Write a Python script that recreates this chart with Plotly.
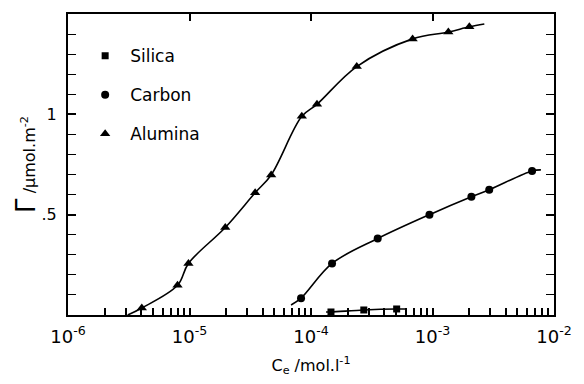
import plotly.graph_objects as go

# Data
alumina_x = [4.05e-6, 7.97e-6, 9.8e-6, 1.97e-5, 3.47e-5, 4.7e-5, 8.4e-5, 1.12e-4, 2.38e-4, 6.86e-4, 1.35e-3, 2.01e-3]
alumina_y = [0.035, 0.148, 0.257, 0.436, 0.609, 0.698, 0.99, 1.05, 1.238, 1.376, 1.41, 1.436]
carbon_x = [8.28e-5, 1.49e-4, 3.54e-4, 9.44e-4, 2.09e-3, 2.93e-3, 6.6e-3]
carbon_y = [0.084, 0.257, 0.381, 0.5, 0.589, 0.624, 0.718]
silica_x = [1.46e-4, 2.72e-4, 5.07e-4]
silica_y = [0.015, 0.025, 0.03]

# Fitted-curve end points
alumina_curve_ends_x = [3.1e-6, 2.67e-3]
alumina_curve_ends_y = [0.0, 1.45]
carbon_curve_ends_x = [6.85e-5, 7.8e-3]
carbon_curve_ends_y = [0.05, 0.723]
silica_curve_ends_x = [1.33e-4, 6.0e-4]
silica_curve_ends_y = [0.015, 0.03]

decades = [1e-6, 1e-5, 1e-4, 1e-3, 1e-2]
decade_labels = ["10<sup>-6</sup>", "10<sup>-5</sup>", "10<sup>-4</sup>", "10<sup>-3</sup>", "10<sup>-2</sup>"]
x_minor = [m * d for d in decades[:-1] for m in range(2, 10)]
x_tickvals = decades + x_minor
x_ticktext = decade_labels + [""] * len(x_minor)
y_tickvals = [0.5, 1.0]
y_ticktext = [".5", "1"]

FONT = "DejaVu Sans"

fig = go.Figure()

series = [
    ("Silica", silica_x, silica_y, silica_curve_ends_x, silica_curve_ends_y, "square", 7),
    ("Carbon", carbon_x, carbon_y, carbon_curve_ends_x, carbon_curve_ends_y, "circle", 8),
    ("Alumina", alumina_x, alumina_y, alumina_curve_ends_x, alumina_curve_ends_y, "triangle-up", 9),
]

for name, xs, ys, ex, ey, sym, sz in series:
    cx = [ex[0]] + xs + [ex[1]]
    cy = [ey[0]] + ys + [ey[1]]
    fig.add_trace(go.Scatter(
        x=cx, y=cy, mode="lines", line=dict(color="black", width=1.6, shape="spline", smoothing=1.0),
        showlegend=False, legendgroup=name, hoverinfo="skip"))
    fig.add_trace(go.Scatter(
        x=xs, y=ys, mode="markers", name=name, legendgroup=name,
        marker=dict(symbol=sym, size=sz, color="black")))

# invisible trace on the top axis so that it is drawn
fig.add_trace(go.Scatter(x=[decades[0], decades[-1]], y=[None, None], xaxis="x2", yaxis="y",
                         mode="markers", showlegend=False, hoverinfo="skip"))

fig.update_layout(
    width=584, height=384,
    margin=dict(l=68, r=28, t=14, b=66),
    paper_bgcolor="white", plot_bgcolor="white",
    font=dict(family=FONT, size=14, color="black"),
    legend=dict(x=0.025, y=0.92, xanchor="left", yanchor="top", bgcolor="rgba(0,0,0,0)",
                font=dict(size=17), tracegroupgap=14, traceorder="grouped", itemwidth=40),
    xaxis2=dict(type="log", range=[-6, -2], overlaying="x", side="top",
                tickvals=decades, showticklabels=False, ticks="inside", ticklen=7,
                tickwidth=2, tickcolor="black", showline=True, linecolor="black",
                linewidth=2, showgrid=False, zeroline=False),
    xaxis=dict(
        type="log", range=[-6, -2],
        tickvals=x_tickvals, ticktext=x_ticktext, tickangle=0,
        ticks="inside", ticklen=7, tickwidth=2, tickcolor="black",
        showline=True, linecolor="black", linewidth=2, mirror=False,
        showgrid=False, zeroline=False,
        tickfont=dict(size=18), ticklabelstandoff=4,
        title=dict(text="C<sub>e</sub> /mol.l<sup>-1</sup>", font=dict(size=16), standoff=14),
    ),
)

fig.update_yaxes(
    range=[0, 1.5],
    tickvals=y_tickvals, ticktext=y_ticktext,
    ticks="inside", ticklen=8, tickwidth=1.5, tickcolor="black",
    minor=dict(ticks="inside", ticklen=8, tickwidth=1.2, tickcolor="black", dtick=0.1, showgrid=False),
    showline=True, linecolor="black", linewidth=2, mirror="ticks",
    showgrid=False, zeroline=False,
    tickfont=dict(size=16), ticklabelstandoff=6,
    title=dict(text="<span style='font-size:26px'>Γ</span> /μmol.m<sup>-2</sup>", font=dict(size=16), standoff=2),
)

fig.write_html("out.html")
